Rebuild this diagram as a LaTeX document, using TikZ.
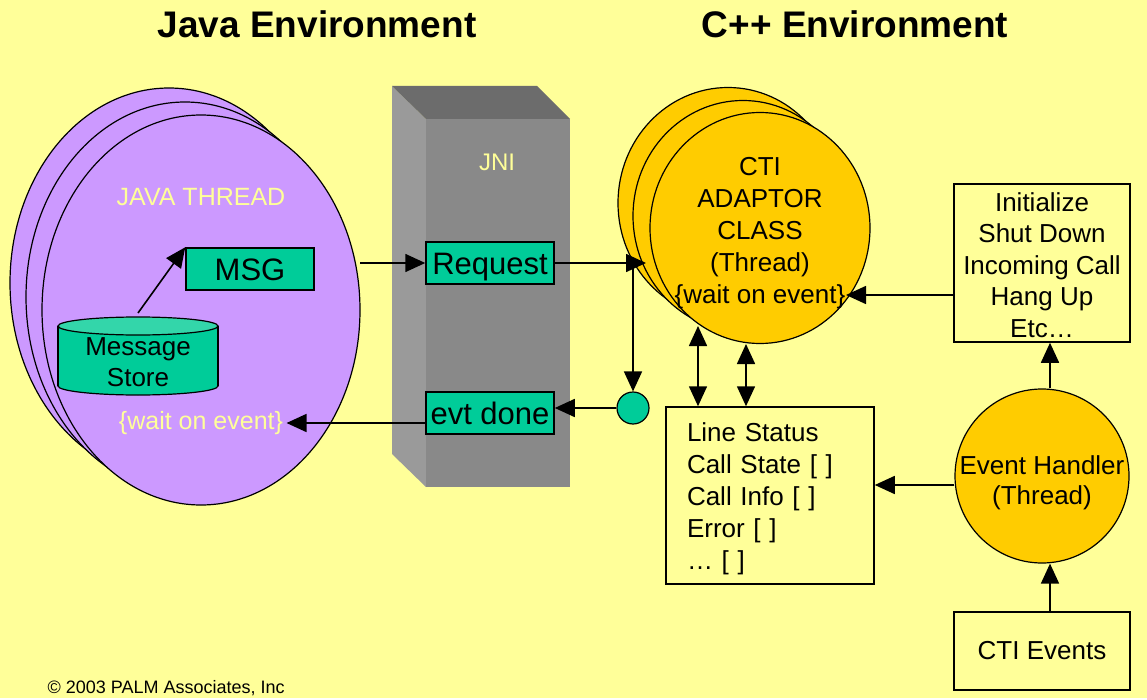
\documentclass[tikz,border=0pt]{standalone}
\usepackage{fontspec}
\setmainfont{Liberation Sans}
\usetikzlibrary{arrows.meta,shapes.geometric}

\definecolor{paper}{HTML}{FFFF99}
\definecolor{lilac}{HTML}{CC99FF}
\definecolor{jade}{HTML}{00CC99}
\definecolor{jadetop}{HTML}{33D6AA}
\definecolor{amber}{HTML}{FFCC00}
\definecolor{jnifront}{HTML}{898989}
\definecolor{jniside}{HTML}{9A9A9A}
\definecolor{jnitop}{HTML}{6C6C6C}

\tikzset{
  thread/.style={ellipse, draw, line width=1.2pt, inner sep=0pt},
  greenbox/.style={draw, fill=jade, line width=1.5pt, minimum width=128pt, minimum height=42pt, inner sep=0pt, text height=22pt, text depth=0pt, font=\fontsize{31}{37}\selectfont},
  plainbox/.style={draw, fill=paper, line width=1.5pt, inner sep=0pt},
  arr/.style={line width=1.6pt, -{Triangle[length=20pt,width=18pt]}},
  darr/.style={line width=1.6pt, {Triangle[length=20pt,width=18pt]}-{Triangle[length=20pt,width=18pt]}},
}

\begin{document}
\begin{tikzpicture}[x=1pt, y=-1pt]
            % Draw the background
            \fill[paper] (0,0) rectangle (1147,698);

            % Draw the two titles
            \node[font=\bfseries\fontsize{37}{44}\selectfont] (javatitle) at (317,24) {Java Environment};
            \node[font=\bfseries\fontsize{37}{44}\selectfont] (cpptitle) at (855,24) {C++ Environment};

            % Draw the java threads
            \node[thread, fill=lilac, minimum width=318pt, minimum height=390pt] (java3) at (169,283) {};
            \node[thread, fill=lilac, minimum width=318pt, minimum height=390pt] (java2) at (185,297) {};
            \node[thread, fill=lilac, minimum width=318pt, minimum height=390pt] (java1) at (201,310) {};
            \node[text=paper, font=\fontsize{25}{30}\selectfont] (javalabel) at (201,197) {JAVA THREAD};

            % Draw the message store
            \draw[fill=jade, line width=1.2pt] (138,386) ellipse[x radius=80, y radius=9];
            \fill[jade] (58,326) rectangle (218,386);
            \draw[line width=1.2pt] (58,326) -- (58,386);
            \draw[line width=1.2pt] (218,326) -- (218,386);
            \draw[fill=jadetop, line width=1.2pt] (138,326) ellipse[x radius=80, y radius=9];
            \node[align=center, font=\fontsize{26}{31}\selectfont] (store) at (138,362) {Message\\Store};
            \coordinate (storetop) at (138,313);

            \node[greenbox] (msg) at (250,269) {MSG};
            \node[text=paper, font=\fontsize{25}{30}\selectfont] (wait) at (201,423) {\{wait on event\}};
            \coordinate (javaout) at (360,263);

            % Draw the JNI block
            \fill[jniside] (392,86) -- (426,119) -- (426,487) -- (392,454) -- cycle;
            \fill[jnitop] (392,86) -- (537,86) -- (570,119) -- (426,119) -- cycle;
            \fill[jnifront] (426,119) rectangle (570,487);
            \node[text=paper, font=\fontsize{24}{29}\selectfont] (jni) at (497,162) {JNI};

            \node[greenbox] (req) at (490,263) {Request};
            \node[greenbox] (evt) at (490,413) {evt done};

            % Draw the CTI adaptor threads
            \node[thread, fill=amber, minimum width=220pt, minimum height=231pt] (cti3) at (728,203) {};
            \node[thread, fill=amber, minimum width=220pt, minimum height=231pt] (cti2) at (743,216) {};
            \node[thread, fill=amber, minimum width=220pt, minimum height=231pt] (cti1) at (760,228) {};
            \node[align=center, font=\fontsize{26}{32}\selectfont] (ctitext) at (760,233) {CTI\\ADAPTOR\\CLASS\\(Thread)\\\{wait on event\}};
            \coordinate (ctiin) at (646,263);
            \coordinate (ctiright) at (846,295);
            \coordinate (ctilow1) at (698,326);
            \coordinate (ctilow2) at (746,344);

            \node[circle, draw, fill=jade, line width=1.2pt, minimum size=32pt, inner sep=0pt] (dot) at (633,408) {};

            % Draw the status box
            \node[plainbox, minimum width=208pt, minimum height=177pt] (status) at (770,495.5) {};
            \node[text width=166pt, inner sep=0pt, align=left, font=\fontsize{26}{32}\selectfont] (statustext) at (770,499) {Line Status\\Call State [ ]\\Call Info [ ]\\Error [ ]\\… [ ]};

            % Draw the right column
            \node[plainbox, minimum width=176pt, minimum height=158pt] (init) at (1042,263) {};
            \node[align=center, font=\fontsize{26}{31.5}\selectfont] (inittext) at (1042,265) {Initialize\\Shut Down\\Incoming Call\\Hang Up\\Etc…};
            \node[circle, draw, fill=amber, line width=1.2pt, minimum size=174pt, inner sep=0pt] (eh) at (1042,476) {};
            \node[align=center, font=\fontsize{26}{30}\selectfont] (ehtext) at (1042,483) {Event Handler\\(Thread)};
            \node[plainbox, minimum width=176pt, minimum height=78pt, font=\fontsize{26}{31}\selectfont] (events) at (1042,651) {CTI Events};

            \node[anchor=west, font=\fontsize{18}{20}\selectfont] (copy) at (44,688) {© 2003 PALM Associates, Inc};

            % Draw the arrows
            \draw[arr] (storetop) -- (msg.north west);
            \draw[arr] (javaout) -- (req.west);
            \coordinate (split) at (dot |- req.east);
            \draw[arr] (req.east) -- (ctiin);
            \draw[arr] (split) -- (dot.north);
            \draw[arr] (dot.west) -- (dot.west -| evt.east);
            \draw[arr] (wait.east -| evt.west) -- (wait.east);
            \draw[arr] (init.west |- ctiright) -- (ctiright);
            \draw[darr] (ctilow1) -- (ctilow1 |- status.north);
            \draw[darr] (ctilow2) -- (ctilow2 |- status.north);
            \draw[arr] ([xshift=8pt]eh.north) -- ([xshift=8pt]init.south);
            \draw[arr] ([xshift=8pt]events.north) -- ([xshift=8pt]eh.south);
            \draw[arr] ([yshift=-9pt]eh.west) -- ([yshift=-9pt]eh.west -| status.east);

        \end{tikzpicture}
\end{document}
